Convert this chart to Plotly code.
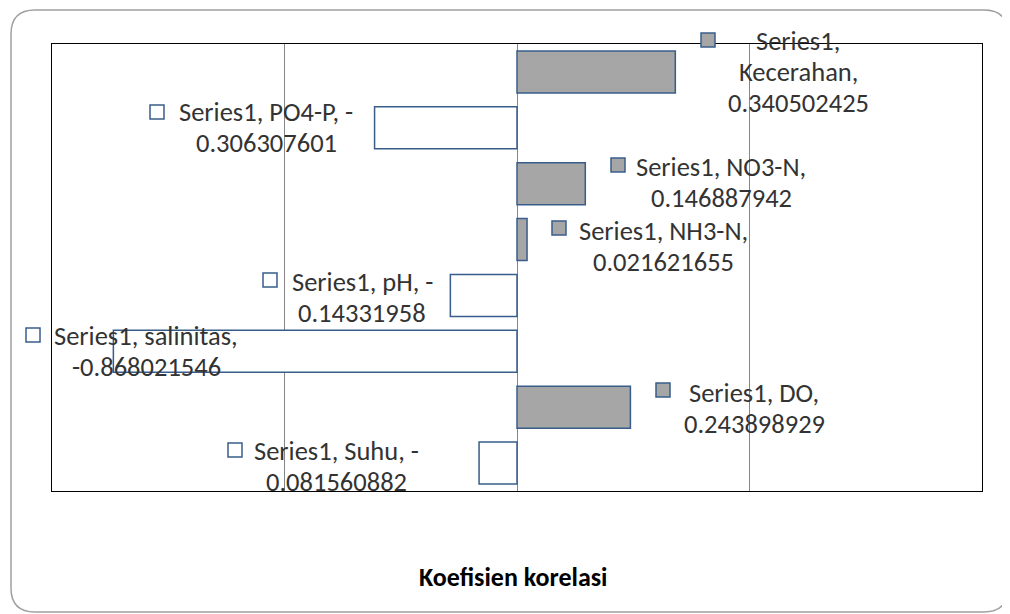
import plotly.graph_objects as go

# ---- data ----
categories = ["Suhu", "DO", "salinitas", "pH", "NH3-N", "NO3-N", "PO4-P", "Kecerahan"]
values = [-0.081560882, 0.243898929, -0.868021546, -0.14331958,
          0.021621655, 0.146887942, -0.306307601, 0.340502425]
series_name = "Series1"
axis_title = "Koefisien korelasi"

# ---- layout (screen-pixel positions of the manually placed labels) ----
OFF = 8                       # page body margin
W, H = 1010 - OFF, 614 - OFF  # figure size
PL, PR, PT, PB = 52, 982, 44, 491  # plot area on screen
label_center = [(336, 466), (754, 408), (146, 351), (362, 297),
                (663, 246), (721, 182), (266, 127), (798, 72)]
key_center = [(235, 450), (663, 390), (33, 335), (270, 280),
              (559, 228), (618, 165), (157, 112), (708, 40)]
wrap_mode = ["dash", "keep", "keep", "dash", "keep", "keep", "dash", "three"]
LINE_H = 31
title_pos = (513, 577)

POS_FILL = "#a6a6a6"
NEG_FILL = "#ffffff"
EDGE = "#385d8a"
FONT = "Carlito, Lato, 'Open Sans', sans-serif"
TXT = "#333333"


def label_lines(cat, val, mode):
    if mode == "three":
        return [f"{series_name},", f"{cat},", f"{val}"]
    if mode == "dash":
        return [f"{series_name}, {cat}, -", f"{abs(val)}"]
    return [f"{series_name}, {cat},", f"{val}"]


fills = [POS_FILL if v >= 0 else NEG_FILL for v in values]

fig = go.Figure()
fig.add_trace(go.Bar(
    x=values, y=categories, orientation="h",
    marker=dict(color=fills, line=dict(color=EDGE, width=1.5)),
    showlegend=False, hoverinfo="x+y",
))

# legend keys next to the labels (overlay axes in screen pixels)
fig.add_trace(go.Scatter(
    x=[k[0] for k in key_center], y=[k[1] for k in key_center],
    xaxis="x2", yaxis="y2", mode="markers", cliponaxis=False,
    marker=dict(symbol="square", size=14, color=fills,
                line=dict(color=EDGE, width=1.5)),
    showlegend=False, hoverinfo="skip",
))

annotations = []
for cat, val, mode, (cx, cy) in zip(categories, values, wrap_mode, label_center):
    lines = label_lines(cat, val, mode)
    n = len(lines)
    for i, ln in enumerate(lines):
        annotations.append(dict(
            x=cx, y=cy + (i - (n - 1) / 2) * LINE_H, xref="x2", yref="y2",
            text=ln, showarrow=False, xanchor="center", yanchor="middle",
            font=dict(family=FONT, size=26.5, color=TXT),
        ))
annotations.append(dict(
    x=title_pos[0], y=title_pos[1], xref="x2", yref="y2",
    text=f"<b>{axis_title}</b>", showarrow=False,
    xanchor="center", yanchor="middle",
    font=dict(family=FONT, size=26, color="#000000"),
))

# rounded outer border (screen pixels)
bl, br, bt, bb, r = 11, 1008, 10, 612, 24
path = (f"M {bl + r},{bt} L {br - r},{bt} Q {br},{bt} {br},{bt + r} "
        f"L {br},{bb - r} Q {br},{bb} {br - r},{bb} "
        f"L {bl + r},{bb} Q {bl},{bb} {bl},{bb - r} "
        f"L {bl},{bt + r} Q {bl},{bt} {bl + r},{bt} Z")

fig.update_layout(
    width=W, height=H,
    margin=dict(l=0, r=0, t=0, b=0, pad=0),
    paper_bgcolor="white", plot_bgcolor="rgba(0,0,0,0)",
    bargap=0.25,
    xaxis=dict(domain=[(PL - OFF) / W, (PR - OFF) / W],
               range=[-1, 1], dtick=0.5, tick0=0, showgrid=True,
               gridcolor="#868686", gridwidth=1, zeroline=False,
               showticklabels=False, ticks="", showline=True, mirror=True,
               linecolor="#000000", linewidth=1),
    yaxis=dict(domain=[1 - (PB - OFF) / H, 1 - (PT - OFF) / H],
               type="category", categoryorder="array", categoryarray=categories,
               showgrid=False, showticklabels=False, ticks="", showline=True,
               mirror=True, linecolor="#000000", linewidth=1,
               range=[-0.5, len(categories) - 0.5]),
    xaxis2=dict(domain=[0, 1], anchor="y2", range=[OFF, OFF + W], visible=False),
    yaxis2=dict(domain=[0, 1], anchor="x2", range=[OFF + H, OFF], visible=False),
    annotations=annotations,
    shapes=[dict(type="path", path=path, xref="x2", yref="y2",
                 line=dict(color="#a0a0a0", width=1.5), layer="below")],
)

fig.write_html("out.html")
